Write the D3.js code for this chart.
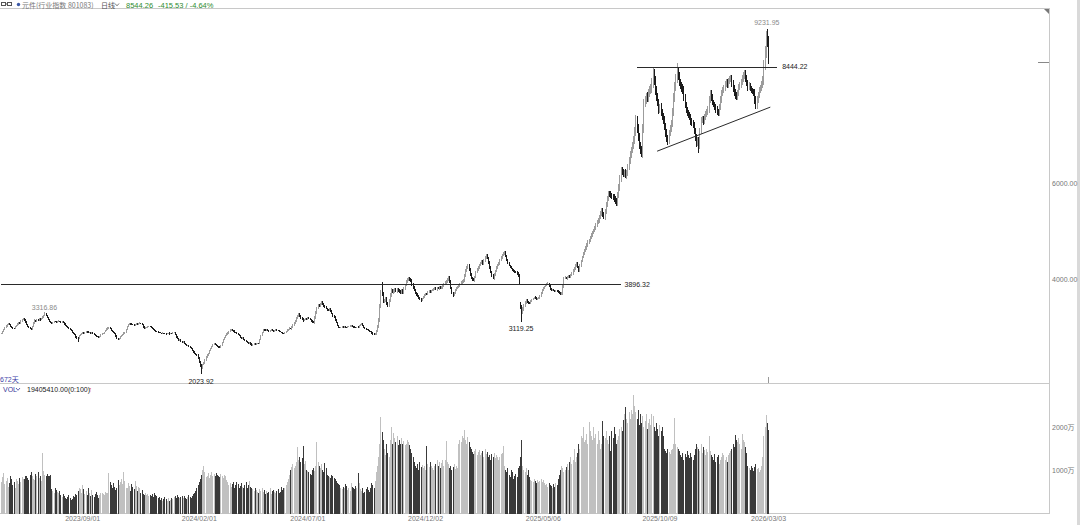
<!DOCTYPE html>
<html><head><meta charset="utf-8">
<script src="https://cdn.jsdelivr.net/npm/d3@7"></script>
<style>
html,body{margin:0;padding:0;background:#fff;overflow:hidden;}
svg{display:block;font-family:"Liberation Sans",Arial,sans-serif;}
</style></head><body>
<svg id="c" width="1080" height="525"></svg>
<script>
// ---- data (daily closes) ----
const closes = [
2878,2910,2955,2990,3030,3060,3081,3050,3020,2995,2980,
2976,3010,3045,3070,3100,3090,3130,3160,3186,
3150,3110,3060,3020,2997,2970,2955,
3020,3090,3144,3130,3160,3150,3175,3160,3186,3210,3240,3270,3249,
3200,3160,3120,3100,3081,3095,3120,3110,3102,
3115,3130,3120,3110,3125,3102,3070,3040,3020,2995,2976,
2950,2930,2900,2871,2850,2800,2780,2760,2830,
2850,2870,2890,2880,2893,2910,2900,2885,2895,2880,2893,
2870,2850,2830,2810,2800,2788,2810,2840,2860,2871,
2900,2930,2960,2985,2997,2970,2940,2910,2890,2871,2820,2770,2740,
2770,2800,2830,2860,2880,2893,2950,3010,3050,3081,3070,3060,3050,3039,
3055,3070,3065,3075,3090,3081,3050,3010,2976,
2990,3000,3010,3020,3005,2997,2980,2960,2940,2920,2910,2893,
2885,2880,2870,2880,2875,2871,2860,2870,2880,2860,2875,2871,2885,2893,2850,2800,2760,2726,
2740,2710,2690,2700,2663,2640,2610,2620,2590,2570,2558,2520,2480,2450,2430,2412,2350,2280,2200,2140,
2220,2260,2308,2380,2420,2454,2510,2560,2600,2640,2663,
2640,2620,2600,2590,2579,2620,2680,2740,2788,2830,2860,2880,2910,2940,2955,
2930,2920,2900,2880,2871,2850,2820,2790,2767,2780,2750,2720,2700,2680,2663,2680,2650,2621,
2640,2660,2640,2650,2670,2663,2740,2830,2900,2955,
2940,2930,2950,2930,2913,2930,2950,2940,2920,2930,2950,2940,2935,2920,2900,2890,2880,2871,
2890,2910,2940,2960,2980,2970,2997,3040,3090,3140,3190,3230,3269,3230,3190,3160,3144,
3160,3180,3170,3190,3186,3160,3130,3110,3102,3200,3310,3400,3458,3440,3490,3520,
3490,3450,3420,3390,3370,3353,3380,3340,3290,3240,3206,3160,3100,3040,2997,
2990,3000,3010,3000,3018,3000,2990,3010,3020,3030,3039,3020,3010,3000,2990,3000,2997,3030,3060,3081,3040,3000,2980,2960,2950,2935,2920,2900,2880,2860,2851,
2870,2930,3020,3150,3450,3720,3700,3550,3562,3600,3500,3458,3560,3680,3771,
3740,3760,3790,3760,3780,3771,3750,3730,3760,3729,3800,3880,3950,3990,4022,4000,3980,3900,3830,3771,
3720,3680,3650,3620,3590,3562,3600,3640,3680,3700,3690,3729,3750,3740,3770,3780,3800,3813,3790,3820,3810,3840,3820,3834,
3860,3900,3930,3960,4000,4043,3950,3820,3720,3666,3720,3780,3820,3850,3875,3900,3930,3960,3980,
4080,4180,4250,4293,4200,4100,4030,4000,3980,4050,4150,4210,4252,4300,4340,4380,4330,4400,4460,4503,
4450,4350,4250,4150,4080,4022,4100,4180,4250,4300,4336,4400,4460,4510,4540,4566,
4480,4400,4350,4293,4260,4230,4200,4180,4160,4147,4120,4080,3938,
3420,3300,
3380,3450,3520,3562,3530,3510,3499,3540,3580,3600,3624,3610,3590,3600,3604,
3650,3720,3780,3813,3850,3880,3900,3917,3860,3800,3771,3790,3770,3760,3771,3750,3730,3720,3700,3708,
3850,4022,4040,4020,4050,4070,4060,4085,4130,4180,4240,4290,4336,4260,4189,
4280,4380,4470,4540,4607,4660,4720,4770,4816,4870,4930,4980,5025,5080,5140,5190,5235,5300,5380,5444,5360,5297,5420,5560,5690,5799,
5780,5750,5730,5716,5680,5630,5590,5760,5925,6100,6280,6250,6200,6230,6180,6217,6350,6489,
6600,6700,6800,6907,7100,7326,7150,6970,6800,6700,6636,7150,7681,7750,7820,7800,7890,7950,7995,8100,8300,
8150,7950,7806,7700,7535,7600,7480,7400,7326,7200,7050,6949,6900,
7050,7150,7263,7500,7800,8016,8200,8350,
8250,8120,8050,8000,7953,7800,7650,7535,7480,7420,7388,7300,7260,7221,7100,6950,6844,6900,6800,
7100,7326,7350,7300,7388,7450,7500,7535,7750,7890,7800,7700,7650,7597,7550,7500,7472,7600,7750,7890,
7950,8000,8080,8120,8060,8150,8180,8204,8100,7980,7900,7850,7806,7900,8016,8050,8120,8200,8260,8308,
8200,8100,8016,8050,7980,7950,7920,7890,7750,7620,7750,7850,7953,8000,8080,8162,
8480,8750,9100,8959.79,8544.26
];
// estimated intraday wick length beyond the body, per mille of price, each side
const wicks = [
4,5,3,6,4,5,4,3,5,4, 5,4,6,3,4,5,4,6,5,4, 3,5,4,6,5,4,3,5,4,6, 4,5,3,4,6,5,7,5,4,6,
5,4,3,5,4,6,4,3,5,4, 4,3,5,4,3,4,5,3,4,5, 3,4,5,4,3,5,6,8,5,4, 4,3,5,4,3,4,5,3,4,4,
3,4,5,3,4,4,3,5,4,3, 4,3,5,4,6,5,4,3,5,4, 5,6,5,4,5,4,3,5,6,4, 5,4,3,5,4,4,3,5,4,3,
4,5,3,4,5,3,4,3,4,3, 3,4,3,4,3,3,4,3,4,3, 3,4,3,3,4,3,3,4,3,3, 4,3,4,5,4,3,4,5,4,3,
4,5,4,3,4,5,6,5,6,7, 6,8,9,10,11,12,10,8,9,7, 8,6,7,5,6,7,5,6,4,5, 6,7,5,6,5,4,5,6,4,5,
5,4,6,4,5,3,4,5,4,6, 5,4,3,5,4,4,5,3,4,5, 4,3,4,5,3,4,6,5,4,5, 4,5,3,4,5,3,4,4,3,5,
4,3,4,5,3,4,4,3,5,4, 5,4,6,5,7,6,5,6,7,8, 7,6,7,5,8,6,5,6,5,6, 5,6,7,6,8,7,9,6,7,6,
7,6,5,6,5,6,5,6,7,6, 5,6,7,5,6,5,4,5,4,5, 4,5,4,5,4,3,5,4,5,4, 5,4,6,5,4,5,4,3,4,5,
4,5,4,3,5,4,5,6,8,9, 11,12,15,12,11,10,9,11,10,9, 10,11,9,10,9,8,9,8,9,8, 9,8,9,8,7,8,7,8,7,8,
7,6,7,6,7,6,5,7,6,5, 6,5,7,6,5,6,5,6,5,6, 5,6,5,6,5,6,7,6,7,8, 7,6,8,7,6,7,6,5,6,5,
7,8,7,8,7,9,8,7,8,7, 7,6,7,6,7,6,5,6,7,6, 6,7,6,7,6,5,6,7,6,7, 6,7,6,5,6,5,6,5,6,7,
6,5,6,5,5,4,5,4,5,5, 5,6,7,10,12,15,10,9,8,7, 6,7,5,6,5,4,5,6,5,4, 5,4,5,6,5,4,5,6,5,4,
5,4,5,4,5,4,4,5,6,5, 6,8,7,6,5,6,5,6,7,6, 7,6,8,7,6,7,8,7,6,7, 8,7,8,9,7,8,7,8,7,8,
9,8,7,9,8,10,9,8,9,10, 9,8,9,10,8,9,10,9,11,10, 11,12,10,11,9,10,11,12,10,11, 12,11,10,12,13,14,12,13,12,11,
13,14,12,11,10,11,12,10,11,13, 12,11,12,10,11,10,9,10,11,10, 11,10,12,11,10,9,10,11,12,13, 11,12,10,11,9,10,9,10,9,8,
9,8,9,10,9,8,9,10,11,10, 12,10,9,8,9,8,9,8,10,9, 8,9,8,7,8,9,8,7,8,9, 8,9,8,7,8,7,8,9,8,9,
8,9,10,9,8,9,8,7,8,9, 8,9,8,9,8,7,8,7,8,10, 11,9,8,7,8,9,10,12,13,14, 13,12
];
// volume in 万
const volumes = [
720,850,930,680,760,820,610,700,880,790,
650,720,600,810,760,690,820,740,850,800,
790,860,880,820,770,900,950,860,800,780,
920,870,950,820,880,760,1400,980,900,870,
920,880,860,900,560,520,480,580,540,500,
470,520,420,380,460,400,350,330,380,420,
360,310,340,400,380,460,430,520,600,560,
480,650,560,450,520,430,600,480,400,540,
420,380,460,500,420,350,440,480,470,460,
430,500,470,480,930,720,650,580,700,620,
540,600,780,650,720,800,690,950,760,600,
580,700,640,520,680,610,560,750,640,520,
620,580,480,540,460,430,470,420,450,400,
440,410,460,380,470,420,400,350,380,320,
360,300,340,380,330,300,350,280,320,360,
330,380,400,350,420,390,360,380,410,350,
400,370,330,380,420,390,360,400,450,470,
520,600,650,720,800,900,1000,1090,950,850,
880,930,820,900,950,870,910,860,940,900,
880,850,920,870,830,900,860,780,720,650,
700,620,680,740,600,650,720,680,600,640,
700,620,580,660,720,600,650,750,620,580,
560,520,600,540,500,480,560,520,590,500,
540,460,520,480,500,580,460,520,540,500,
470,520,560,480,500,620,540,580,600,660,
720,800,900,1000,1080,1150,1050,1100,1200,1530,
1250,1300,1200,1280,1560,1150,1220,1000,980,950,
920,900,1000,1050,980,1100,1650,1200,1100,1050,
1150,1000,950,1180,1050,900,880,850,830,900,
870,820,800,760,700,680,650,600,560,620,
580,680,640,550,600,520,700,620,580,560,
640,600,930,700,560,520,600,480,500,560,
620,540,500,580,700,650,600,750,950,1100,
1300,1600,2230,1880,1700,1500,1350,1600,1400,1300,
1700,2000,1600,1860,1750,1650,1800,1580,1700,1620,
1750,1600,1680,1580,1620,1700,1650,1580,1500,1400,
1300,1200,1100,1050,1150,1000,1200,1080,1120,1050,
1100,1000,1560,1150,1080,1200,1100,1050,1000,1100,
1150,1250,1100,1200,1050,1180,1230,1100,1250,1680,
1200,1150,1050,1100,1000,1080,1150,1020,1100,1060,
1600,1700,1650,1800,1750,1930,1700,1620,1780,1650,
1550,1500,1420,1380,1450,1500,1350,1420,1480,1360,
1400,1450,1300,1500,1380,1420,1300,1350,1250,1380,
1300,1400,1280,1350,1300,1250,1320,1380,1400,1560,
1100,1000,950,1050,900,850,1000,950,800,880,
920,850,1050,1100,1300,1700,1100,1000,950,1050,
900,1000,850,780,760,720,800,750,700,780,
720,760,800,740,780,700,650,680,620,700,
660,640,600,680,620,700,650,800,900,1000,
1100,1050,950,1000,1080,1150,1000,1200,1300,1150,
1250,1500,1200,1300,1400,1600,1500,1800,1750,2000,
1650,1700,1850,1600,2120,1900,1800,1700,2000,1750,
1850,1600,1900,1700,1500,1600,2140,1800,1750,1900,
1700,1600,1800,1450,1900,1750,2000,1850,1600,1700,
1800,1950,2000,1900,2160,2300,2470,2200,2100,2350,
2200,2400,2300,2740,2500,2350,2200,2400,2050,2300,
2100,2250,2000,2150,2300,1950,2100,2200,2050,2300,
2250,2000,1900,2100,1950,1800,2050,1900,2000,1800,
1500,1450,1400,1500,1420,1380,1460,1500,1600,2210,
1600,1550,1500,1450,1350,1300,1400,1250,1380,1300,
1450,1350,1280,1400,1300,1250,1350,1500,1600,1550,
1500,1450,1600,1400,1550,1480,1350,1500,1420,1790,
1450,1350,1300,1250,1380,1200,1300,1350,1150,1250,
1300,1400,1350,1250,1300,1200,1350,1400,1450,1500,
1600,1550,1810,1700,1650,1750,1600,1500,1850,1700,
1650,1550,1400,1100,1050,1000,1100,1050,980,1080,
1150,1020,1050,950,1000,1100,1300,1800,2000,2280,
2100,1940.5
];
// explicit extremes / gap opens
const highIdx = [38, 333, 570, 591, 669, 670, 671];
const highVal = [3316.86, 3938, 8444.22, 8520, 9180, 9231.95, 9080];
const lowIdx  = [67, 175, 455, 583, 610, 660, 671];
const lowVal  = [2700, 2023.92, 3119.25, 6800, 6640, 7560, 8500];
const openIdx = [454, 671];
const openVal = [3480, 8990];
// x-axis tick labels (candle index where they sit)
const tickIdx = [71, 173, 268, 371, 474, 576, 671];
const tickLabels = ["2023/09/01","2024/02/01","2024/07/01","2024/12/02","2025/05/06","2025/10/09","2026/03/03"];
const priceTicks = [4000, 6000];
const volTicks = [1000, 2000];
// drawn lines: [startIdx, startPrice, endIdx, endPrice]
const hLineA = [0, 3896.32, 542, 3896.32];
const hLineB = [556, 8444.22, 679, 8444.22];
const trendLine = [574, 6677, 673, 7597];

// ---- build OHLC ----
const n = closes.length;
const data = closes.map((c, i) => {
  let o = i === 0 ? c : closes[i - 1];
  const oi = openIdx.indexOf(i); if (oi >= 0) o = openVal[oi];
  const w = (wicks[i] || 0) / 1000;
  let h = Math.max(o, c) * (1 + w), l = Math.min(o, c) * (1 - w);
  const hi = highIdx.indexOf(i); if (hi >= 0) h = highVal[hi];
  const li = lowIdx.indexOf(i); if (li >= 0) l = lowVal[li];
  h = Math.max(h, o, c); l = Math.min(l, o, c);
  return {i, o, h, l, c, v: volumes[i] || 0};
});

const svg = d3.select("#c");
const x = d3.scaleLinear().domain([0, n - 1]).range([1, 768]);
const y = d3.scaleLinear().domain([1826, 9667]).range([383.5, 8]);
const vy = d3.scaleLinear().domain([0, 2977]).range([513.5, 385]);
const RIGHT = 1049;

// frame
const frame = svg.append("g").attr("stroke", "#c8c8c8").attr("shape-rendering", "crispEdges");
frame.append("line").attr("x1", 0).attr("x2", RIGHT).attr("y1", 8.5).attr("y2", 8.5);
frame.append("line").attr("x1", 0).attr("x2", RIGHT).attr("y1", 383.5).attr("y2", 383.5);
frame.append("line").attr("x1", 0).attr("x2", RIGHT).attr("y1", 513.5).attr("y2", 513.5);
frame.append("line").attr("x1", RIGHT + 0.5).attr("x2", RIGHT + 0.5).attr("y1", 8).attr("y2", 514);
svg.append("rect").attr("x", 1077).attr("y", 0).attr("width", 3).attr("height", 525).attr("fill", "#d9d9d9");
svg.append("path").attr("d", `M${RIGHT-5},9 L${RIGHT},9 L${RIGHT},14 Z`).attr("fill", "#777");

// candles (1px wide: body and wick merge at this density)
svg.append("g").attr("shape-rendering", "crispEdges").selectAll("rect").data(data).join("rect")
  .attr("x", d => Math.round(x(d.i)))
  .attr("width", 1)
  .attr("y", d => y(d.h))
  .attr("height", d => Math.max(1, y(d.l) - y(d.h)))
  .attr("fill", d => d.c >= d.o ? "#9c9c9c" : "#1c1c1c");

// volume bars
svg.append("g").attr("shape-rendering", "crispEdges").selectAll("rect").data(data).join("rect")
  .attr("x", d => Math.round(x(d.i)))
  .attr("width", 1)
  .attr("y", d => vy(d.v))
  .attr("height", d => vy(0) - vy(d.v))
  .attr("fill", d => d.c >= d.o ? "#c0c0c0" : "#3a3a3a");

// drawn lines
const lg = svg.append("g").attr("stroke", "#2a2a2a").attr("stroke-width", 1);
[hLineA, hLineB].forEach(L => lg.append("line").attr("shape-rendering", "crispEdges")
  .attr("x1", x(L[0])).attr("x2", x(L[2])).attr("y1", Math.round(y(L[1])) + 0.5).attr("y2", Math.round(y(L[3])) + 0.5));
lg.append("line").attr("x1", x(trendLine[0])).attr("x2", x(trendLine[2])).attr("y1", y(trendLine[1])).attr("y2", y(trendLine[3]));

const FS = "7px";
const ann = svg.append("g").attr("font-size", FS);
ann.append("text").attr("x", x(hLineA[2]) + 4).attr("y", y(hLineA[1]) + 2.5).attr("fill", "#222").text(hLineA[1].toFixed(2));
ann.append("text").attr("x", x(hLineB[2]) + 5).attr("y", y(hLineB[1]) + 2.5).attr("fill", "#222").text(hLineB[1].toFixed(2));
const labHigh = [[38, 3316.86], [670, 9231.95]];
const labLow = [[175, 2023.92], [455, 3119.25]];
labHigh.forEach(([i, v]) => ann.append("text").attr("x", x(i)).attr("y", y(v) - (i > 600 ? 3.5 : 2)).attr("text-anchor", "middle").attr("fill", "#8a8a8a").text(v.toFixed(2)));
labLow.forEach(([i, v]) => ann.append("text").attr("x", x(i)).attr("y", y(v) + 9.5).attr("text-anchor", "middle").attr("fill", "#222").text(v.toFixed(2)));

// right axes
const ay = svg.append("g").attr("transform", `translate(${RIGHT},0)`)
  .call(d3.axisRight(y).tickValues(priceTicks).tickSize(0).tickPadding(3).tickFormat(d => d.toFixed(2)));
const av = svg.append("g").attr("transform", `translate(${RIGHT},0)`)
  .call(d3.axisRight(vy).tickValues(volTicks).tickSize(0).tickPadding(3).tickFormat(d => d + "万"));
[ay, av].forEach(g => { g.select(".domain").remove(); g.selectAll("text").attr("fill", "#777").attr("font-size", FS).attr("font-family", "'Liberation Sans','Noto Sans CJK SC',sans-serif"); });
svg.append("line").attr("x1", RIGHT - 11).attr("x2", RIGHT).attr("y1", Math.round(y(closes[n - 1])) + 0.5).attr("y2", Math.round(y(closes[n - 1])) + 0.5)
  .attr("stroke", "#888").attr("shape-rendering", "crispEdges");

// bottom axis
const ax = svg.append("g").attr("transform", "translate(0,514)")
  .call(d3.axisBottom(x).tickValues(tickIdx).tickSize(0).tickPadding(2).tickFormat((d, k) => tickLabels[k]));
ax.select(".domain").remove();
ax.selectAll("text").attr("fill", "#777").attr("font-size", FS);

svg.append("line").attr("x1", Math.round(x(n - 1)) + 0.5).attr("x2", Math.round(x(n - 1)) + 0.5).attr("y1", 377).attr("y2", 383)
  .attr("stroke", "#999").attr("shape-rendering", "crispEdges");

// header
const hd = svg.append("g").attr("font-size", "7px").attr("font-family", "'Noto Sans CJK SC','Liberation Sans',sans-serif");
hd.append("rect").attr("x", 1.5).attr("y", 2.5).attr("width", 4).attr("height", 3).attr("fill", "none").attr("stroke", "#555");
hd.append("rect").attr("x", 7.5).attr("y", 2.5).attr("width", 4).attr("height", 3).attr("fill", "none").attr("stroke", "#555");
hd.append("line").attr("x1", 5.5).attr("x2", 7.5).attr("y1", 4).attr("y2", 4).attr("stroke", "#555");
hd.append("circle").attr("cx", 18.5).attr("cy", 4.5).attr("r", 1.7).attr("fill", "#3c5aa8");
hd.append("text").attr("x", 22).attr("y", 7.5).attr("fill", "#777").text("元件(行业指数 801083)");
hd.append("text").attr("x", 101).attr("y", 7.5).attr("fill", "#555").text("日线");
hd.append("path").attr("d", "M115,3.5 L117,5.8 L119,3.5").attr("fill", "none").attr("stroke", "#555").attr("stroke-width", 0.8);
hd.append("text").attr("x", 126).attr("y", 7.5).attr("fill", "#2e8b2e").attr("font-family", "'Liberation Sans',sans-serif").attr("font-size", "7.5px").text("8544.26");
hd.append("text").attr("x", 158).attr("y", 7.5).attr("fill", "#2e8b2e").attr("font-family", "'Liberation Sans',sans-serif").attr("font-size", "7.5px").text("-415.53 / -4.64%");

// volume header & day count
const vh = svg.append("g").attr("font-size", "7px").attr("font-family", "'Liberation Sans','Noto Sans CJK SC',sans-serif");
vh.append("text").attr("x", 0).attr("y", 382).attr("fill", "#4040a8").text("672天");
vh.append("text").attr("x", 3).attr("y", 391.5).attr("fill", "#3a3a9a").text("VOL");
vh.append("path").attr("d", "M16,388 L18,390.3 L20,388").attr("fill", "none").attr("stroke", "#3a3a9a").attr("stroke-width", 0.8);
vh.append("text").attr("x", 27).attr("y", 391.5).attr("fill", "#222").text("19405410.00(0:100)");
vh.append("text").attr("x", 88.5).attr("y", 391.5).attr("fill", "#d22").text("↑");
</script>
</body></html>
